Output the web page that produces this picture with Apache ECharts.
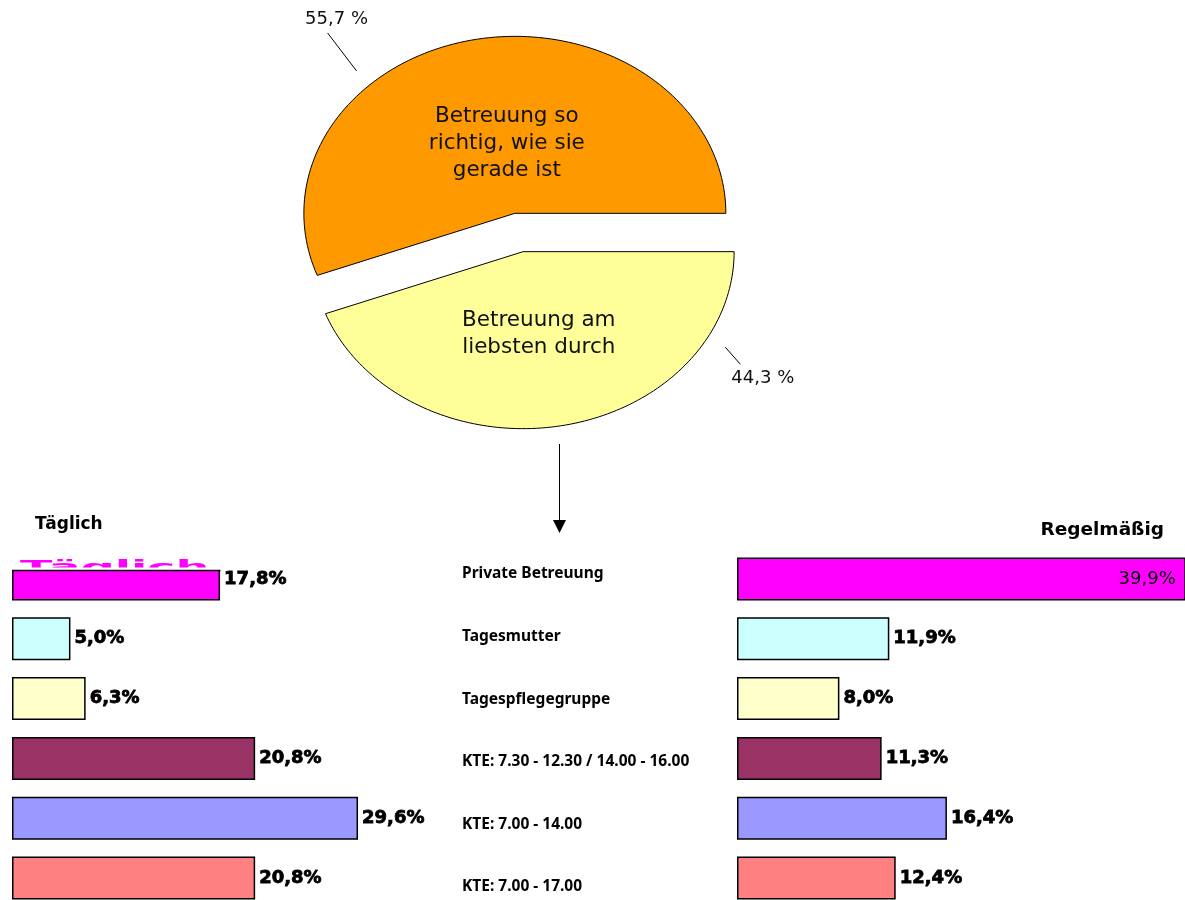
<!DOCTYPE html>
<html>
<head>
<meta charset="utf-8">
<script src="https://cdn.jsdelivr.net/npm/echarts@6/dist/echarts.min.js"></script>
<style>
  html, body { margin: 0; padding: 0; background: #ffffff; }
  #chart { width: 1185px; height: 900px; }
</style>
</head>
<body>
<div id="chart"></div>
<script>
// Pie: share of answers
const pieNames = ['Betreuung so\nrichtig, wie sie\ngerade ist', 'Betreuung am\nliebsten durch'];
const pieValues = [55.7, 44.3];
const pieColors = ['#FF9900', '#FFFF99'];

// Bars: preferred type of care
const categories = [
  'Private Betreuung',
  'Tagesmutter',
  'Tagespflegegruppe',
  'KTE: 7.30 - 12.30 / 14.00 - 16.00',
  'KTE: 7.00 - 14.00',
  'KTE: 7.00 - 17.00'
];
const dailyValues = [17.8, 5.0, 6.3, 20.8, 29.6, 20.8];
const regularValues = [39.9, 11.9, 8.0, 11.3, 16.4, 12.4];
const barColors = ['#FF00FF', '#CCFFFF', '#FFFFCC', '#993366', '#9999FF', '#FF8080'];

const fmtPct = v => v.toFixed(1).replace('.', ',') + '%';
const fmtPie = v => v.toFixed(1).replace('.', ',') + ' %';

const chart = echarts.init(document.getElementById('chart'), null, { renderer: 'canvas' });

// slice angles (degrees, counter-clockwise from the right)
const pieTotal = pieValues.reduce((a, b) => a + b, 0);
const sliceStart = [];
let acc = 0;
pieValues.forEach(v => { sliceStart.push(acc); acc += v / pieTotal * 360; });

const explode = 0.11;
// inner label: distance along the slice bisector plus a small pixel nudge
const innerLabel = [
  { r: 0.40, dx: 7, dy: 0 },
  { r: 0.47, dx: -2, dy: 0 }
];
// leader line: starts just outside the rim, then runs by (vx, vy) pixels
const leaders = [
  { angle: 133, r0: 1.10, vx: -29, vy: -38, dx: 9, dy: -5, align: 'center', vAlign: 'bottom' },
  { angle: 330.6, r0: 1.10, vx: 15, vy: 17, dx: -9, dy: 5, align: 'left', vAlign: 'top' }
];
const rad = d => d * Math.PI / 180;

function renderSlice(params, api) {
  const i = params.dataIndex;
  const v = api.value(0);
  const a0 = sliceStart[i];
  const a1 = a0 + v / pieTotal * 360;
  const mid = (a0 + a1) / 2;
  const ox = explode * Math.cos(rad(mid));
  const oy = explode * Math.sin(rad(mid));
  const pts = [api.coord([ox, oy])];
  const steps = 120;
  for (let k = 0; k <= steps; k++) {
    const a = rad(a0 + (a1 - a0) * k / steps);
    pts.push(api.coord([ox + Math.cos(a), oy + Math.sin(a)]));
  }
  const il = innerLabel[i];
  const inner = api.coord([ox + il.r * Math.cos(rad(mid)), oy + il.r * Math.sin(rad(mid))]);
  const ld = leaders[i];
  const p0 = api.coord([ox + ld.r0 * Math.cos(rad(ld.angle)), oy + ld.r0 * Math.sin(rad(ld.angle))]);
  const p1 = [p0[0] + ld.vx, p0[1] + ld.vy];
  return {
    type: 'group',
    children: [
      {
        type: 'polygon',
        shape: { points: pts },
        style: { fill: pieColors[i], stroke: '#000000', lineWidth: 1 }
      },
      {
        type: 'text',
        x: inner[0] + il.dx, y: inner[1] + il.dy,
        style: {
          text: pieNames[i],
          align: 'center', verticalAlign: 'middle',
          font: '21.5px "DejaVu Sans"', lineHeight: 27, fill: '#111111'
        }
      },
      {
        type: 'line',
        shape: { x1: p0[0], y1: p0[1], x2: p1[0], y2: p1[1] },
        style: { stroke: '#000000', lineWidth: 1 }
      },
      {
        type: 'text',
        x: p1[0] + ld.dx, y: p1[1] + ld.dy,
        style: {
          text: fmtPie(v),
          align: ld.align, verticalAlign: ld.vAlign,
          font: '18px "DejaVu Sans"', fill: '#111111'
        }
      }
    ]
  };
}

const barLabel = {
  show: true,
  position: 'right',
  distance: 4,
  formatter: p => fmtPct(p.value),
  fontFamily: 'DejaVu Sans',
  fontWeight: 'bold',
  fontSize: 18,
  color: '#000000',
  textBorderColor: '#000000',
  textBorderWidth: 0.8
};

const hiddenValueAxis = (idx, max) => ({
  type: 'value', gridIndex: idx, min: 0, max: max, show: false
});
const hiddenCatAxis = idx => ({
  type: 'category', gridIndex: idx, data: categories, inverse: true, show: false
});

const option = {
  animation: false,
  backgroundColor: '#ffffff',
  title: [
    {
      text: 'Täglich', left: 30, top: 511,
      textStyle: { fontFamily: 'DejaVu Sans', fontWeight: 'bold', fontSize: 17, color: '#000000' }
    },
    {
      text: 'Regelmäßig', right: 16, top: 516,
      textStyle: { fontFamily: 'DejaVu Sans', fontWeight: 'bold', fontSize: 18.5, color: '#000000' }
    }
  ],
  grid: [
    // pie area (unit circle stretched into an ellipse)
    { left: 255.25, top: 11.25, width: 527.5, height: 442.5, outerBoundsMode: 'none' },
    // daily bars
    { left: 12, top: 549, width: 350.7, height: 359, outerBoundsMode: 'none' },
    // regular bars
    { left: 737, top: 549, width: 448, height: 359, outerBoundsMode: 'none' },
    // category names in the middle
    { left: 400, top: 542.7, width: 54, height: 375.6, outerBoundsMode: 'none' }
  ],
  xAxis: [
    { type: 'value', gridIndex: 0, min: -1.25, max: 1.25, show: false },
    hiddenValueAxis(1, 30),
    hiddenValueAxis(2, 35),
    hiddenValueAxis(3, 1)
  ],
  yAxis: [
    { type: 'value', gridIndex: 0, min: -1.25, max: 1.25, show: false },
    hiddenCatAxis(1),
    hiddenCatAxis(2),
    {
      type: 'category', gridIndex: 3, data: categories, inverse: true,
      position: 'right',
      axisLine: { show: false }, axisTick: { show: false }, splitLine: { show: false },
      axisLabel: {
        margin: 8, align: 'left',
        fontFamily: 'Noto Sans', fontWeight: 'bold', fontSize: 15.5, color: '#000000'
      }
    }
  ],
  series: [
    {
      type: 'custom',
      xAxisIndex: 0, yAxisIndex: 0,
      silent: true,
      data: pieValues.map(v => [v]),
      encode: { x: -1, y: -1 },
      renderItem: renderSlice
    },
    {
      type: 'bar',
      xAxisIndex: 1, yAxisIndex: 1,
      silent: true,
      barWidth: 43,
      itemStyle: { borderColor: '#000000', borderWidth: 1.5 },
      label: barLabel,
      data: dailyValues.map((v, i) => ({ value: v, itemStyle: { color: barColors[i] } }))
    },
    {
      type: 'bar',
      xAxisIndex: 2, yAxisIndex: 2,
      silent: true,
      clip: true,
      barWidth: 43,
      itemStyle: { borderColor: '#000000', borderWidth: 1.5 },
      label: barLabel,
      data: regularValues.map((v, i) => {
        const item = { value: v, itemStyle: { color: barColors[i] } };
        if (i === 0) {
          item.label = {
            position: 'insideRight', distance: 10,
            fontWeight: 'normal', fontSize: 18, textBorderWidth: 0, color: '#000000'
          };
        }
        return item;
      })
    },
    {
      type: 'bar',
      xAxisIndex: 3, yAxisIndex: 3,
      silent: true,
      data: categories.map(() => 0)
    }
  ],
  graphic: [
    // arrow from the pie down to the bar panels
    {
      type: 'line', z: 50,
      shape: { x1: 559.5, y1: 444, x2: 559.5, y2: 522 },
      style: { stroke: '#000000', lineWidth: 1 }
    },
    {
      type: 'polygon', z: 50,
      shape: { points: [[553, 520], [566, 520], [559.5, 533]] },
      style: { fill: '#000000' }
    },
    // caption remnant over the first daily bar
    {
      type: 'rect', z: 100,
      shape: { x: 10, y: 555, width: 214, height: 15 },
      style: { fill: '#ffffff' }
    },
    {
      type: 'text', z: 101,
      x: 20, y: 559.5, scaleX: 2.64, scaleY: 1,
      style: {
        text: 'Täglich', align: 'left', verticalAlign: 'top',
        font: 'bold 18px "DejaVu Sans"', fill: '#FF00FF'
      }
    },
    {
      type: 'rect', z: 102,
      shape: { x: 10, y: 567.5, width: 214, height: 2.5 },
      style: { fill: '#ffffff' }
    },
    {
      type: 'line', z: 103,
      shape: { x1: 12, y1: 570.5, x2: 220.5, y2: 570.5 },
      style: { stroke: '#000000', lineWidth: 1.5 }
    }
  ]
};

chart.setOption(option);
</script>
</body>
</html>
